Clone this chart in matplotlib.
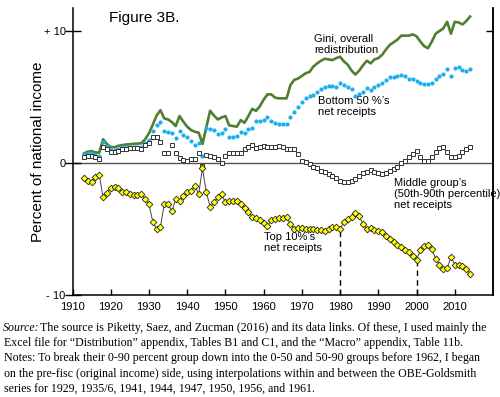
import numpy as np
import matplotlib.pyplot as plt

# --- данные (годы 1913-2014) ---
years = np.arange(1913, 2015)

gini = [0.73, 0.86, 0.9, 0.8, 0.78, 1.8, 1.44, 1.2, 1.2, 1.3,
        1.36, 1.4, 1.42, 1.45, 1.47, 1.49, 1.8, 2.25, 2.9, 3.6,
        4.0, 3.38, 3.3, 3.1, 2.8, 3.56, 3.13, 2.75, 2.5, 2.37,
        2.3, 1.45, 2.7, 3.96, 3.6, 3.3, 3.45, 3.56, 2.85, 2.8,
        2.75, 3.25, 3.05, 3.55, 4.1, 3.95, 4.3, 4.8, 5.2, 5.2,
        4.95, 4.9, 4.9, 4.9, 5.9, 6.3, 6.4, 6.6, 6.8, 6.9,
        7.3, 7.55, 7.75, 7.9, 7.85, 7.8, 7.95, 8.05, 7.7, 7.45,
        7.0, 6.7, 7.0, 7.4, 7.75, 7.55, 7.85, 7.95, 8.2, 8.6,
        8.95, 9.15, 9.35, 9.65, 9.65, 9.65, 9.75, 9.6, 9.2, 8.85,
        8.7, 9.2, 9.8, 10.0, 10.2, 10.7, 9.8, 10.7, 10.65, 10.5,
        10.75, 11.1]

bottom50 = [0.65, 0.75, 0.78, 0.62, 0.55, 1.6, 1.3, 1.0, 1.0, 1.08,
            1.2, 1.2, 1.25, 1.25, 1.25, 1.25, 1.5, 1.75, 2.4, 2.9,
            3.1, 2.4, 2.35, 2.25, 1.87, 2.45, 2.1, 2.0, 1.67, 1.4,
            1.54, 0.55, 2.67, 2.6, 2.5, 2.2, 2.3, 2.55, 2.0, 2.0,
            2.02, 2.37, 2.3, 2.6, 2.65, 3.2, 3.2, 3.25, 3.5, 3.2,
            3.05, 2.95, 2.95, 2.95, 3.45, 3.9, 4.27, 4.65, 4.9, 5.07,
            5.15, 5.4, 5.58, 5.78, 5.86, 5.85, 5.73, 6.03, 5.9, 5.73,
            5.58, 5.1, 5.2, 5.4, 5.65, 5.53, 5.73, 5.9, 6.08, 6.3,
            6.5, 6.5, 6.6, 6.65, 6.6, 6.4, 6.4, 6.24, 6.1, 5.98,
            5.97, 6.1, 6.4, 6.6, 6.74, 7.1, 6.6, 7.17, 7.25, 7.05,
            6.97, 7.12]

middle = [0.48, 0.55, 0.55, 0.48, 0.3, 1.24, 1.04, 0.86, 0.86, 0.93,
          1.04, 1.04, 1.16, 1.16, 1.16, 1.08, 1.36, 1.49, 2.0, 2.0,
          1.6, 0.78, 0.78, 1.36, 0.78, 0.4, 0.23, 0.17, 0.3, 0.3,
          0.75, -0.25, 0.6, 0.55, 0.45, 0.32, 0.03, 0.5, 0.75, 0.75,
          0.75, 0.79, 1.08, 1.24, 1.38, 1.11, 1.24, 1.28, 1.2, 1.24,
          1.2, 1.31, 1.2, 1.08, 1.08, 1.04, 0.68, 0.17, 0.05, -0.08,
          -0.28, -0.4, -0.6, -0.7, -0.8, -0.95, -1.1, -1.35, -1.42, -1.42,
          -1.37, -1.24, -0.99, -0.74, -0.65, -0.53, -0.7, -0.78, -0.85, -0.73,
          -0.6, -0.45, -0.28, -0.03, 0.17, 0.43, 0.68, 0.93, 0.43, 0.15,
          0.17, 0.43, 0.86, 1.11, 1.24, 0.81, 0.43, 0.43, 0.5, 0.86,
          1.04, 1.19]

top10 = [-1.1, -1.35, -1.45, -1.05, -0.9, -2.6, -2.3, -1.87, -1.8, -1.87,
         -2.22, -2.22, -2.37, -2.45, -2.45, -2.37, -2.75, -3.13, -4.45, -5.0,
         -4.82, -3.13, -3.13, -3.64, -2.75, -2.88, -2.5, -2.22, -2.1, -1.72,
         -2.35, -0.4, -2.22, -3.31, -2.98, -2.6, -2.35, -2.98, -2.87, -2.87,
         -2.85, -3.12, -3.4, -3.72, -4.07, -4.19, -4.35, -4.51, -4.77, -4.32,
         -4.27, -4.19, -4.14, -4.12, -4.65, -5.0, -4.95, -4.9, -5.0, -4.97,
         -5.0, -5.08, -5.08, -5.15, -5.0, -4.82, -4.87, -4.97, -4.5, -4.26,
         -4.1, -3.82, -4.03, -4.63, -5.0, -4.95, -5.1, -5.15, -5.2, -5.5,
         -5.74, -5.96, -6.18, -6.37, -6.62, -6.78, -7.05, -7.32, -6.63, -6.27,
         -6.2, -6.55, -7.25, -7.7, -8.03, -7.98, -7.13, -7.7, -7.75, -7.82,
         -8.0, -8.38]

dashed_years = [1980, 2000]
xtick_years = list(range(1910, 2011, 10))

caption = [
    "The source is Piketty, Saez, and Zucman (2016) and its data links. Of these, I used mainly the",
    "Excel file for \u201cDistribution\u201d appendix, Tables B1 and C1, and the \u201cMacro\u201d appendix, Table 11b.",
    "Notes: To break their 0-90 percent group down into the 0-50 and 50-90 groups before 1962, I began",
    "on the pre-fisc (original income) side, using interpolations within and between the OBE-Goldsmith",
    "series for 1929, 1935/6, 1941, 1944, 1947, 1950, 1956, and 1961.",
]

plt.rcParams['font.family'] = ['Liberation Sans', 'DejaVu Sans']

fig = plt.figure(figsize=(5.0, 3.97), dpi=100)
ax = fig.add_axes([0.145, 0.257, 0.841, 0.723])

ax.axhline(0, color='#555555', lw=1.0, zorder=1)

top_map = dict(zip(years, top10))
for yr in dashed_years:
    ax.vlines(yr, -10, top_map[yr], colors='black', linestyles=(0, (4, 3)), lw=1.0, zorder=2)

ax.plot(years, gini, color='#4F7F2F', lw=1.9, zorder=3)
ax.plot(years, bottom50, 'o', color='#1CAEEF', ms=3.0, mec='none', zorder=4)
ax.plot(years, middle, 's', mfc='white', mec='#333333', mew=0.7, ms=3.0, zorder=4)
ax.plot(years, top10, '-', color='#444444', lw=0.7, zorder=4)
ax.plot(years, top10, 'D', mfc='#FFFF00', mec='#222222', mew=0.6, ms=3.4, zorder=5)

ax.set_xlim(1910, 2020)
ax.set_ylim(-10, 11.75)
ax.set_xticks(xtick_years)
ax.set_xticklabels([str(y) for y in xtick_years], fontsize=8)
ax.set_yticks([-10, 0, 10])
ax.set_yticklabels(['- 10', '0', '+ 10'], fontsize=8)
ax.tick_params(axis='x', direction='in', length=4, width=1, pad=5)
ax.tick_params(axis='y', direction='inout', length=12, width=1, pad=-1)
ax.spines['top'].set_visible(False)
for s in ['left', 'right', 'bottom']:
    ax.spines[s].set_linewidth(1.1)

# засечка справа только внутрь
sec = ax.secondary_yaxis('right')
sec.set_yticks([10])
sec.tick_params(direction='in', length=5, width=1, labelright=False)
sec.spines['right'].set_linewidth(1.1)

ax.set_ylabel('Percent of national income', fontsize=11)
ax.yaxis.set_label_coords(-0.066, 0.5)

ax.text(1919.5, 11.0, 'Figure 3B.', fontsize=11, va='center', ha='left')
ax.text(1973.3, 9.8, 'Gini, overall\nredistribution', fontsize=8, va='top', ha='left', linespacing=1.15)
ax.text(1974.3, 5.1, 'Bottom 50 %\u2019s\nnet receipts', fontsize=8, va='top', ha='left', linespacing=1.15)
ax.text(1994.2, -1.1, 'Middle group\u2019s\n(50th-90th percentile)\nnet receipts', fontsize=8,
        va='top', ha='left', linespacing=1.15)
ax.text(1960.1, -5.2, 'Top 10%\u2019s\nnet receipts', fontsize=8, va='top', ha='left', linespacing=1.15)

# подпись под графиком
y0 = 1 - 331 / 397
for i, body in enumerate(caption):
    y = y0 - i * 15.2 / 397
    if i == 0:
        fig.text(0.006, y, 'Source:', fontsize=8.6, family='Liberation Serif', style='italic', va='baseline')
        fig.text(0.081, y, body, fontsize=8.6, family='Liberation Serif', va='baseline')
    else:
        fig.text(0.008, y, body, fontsize=8.6, family='Liberation Serif', va='baseline')

fig.savefig('out.png', dpi=100)
